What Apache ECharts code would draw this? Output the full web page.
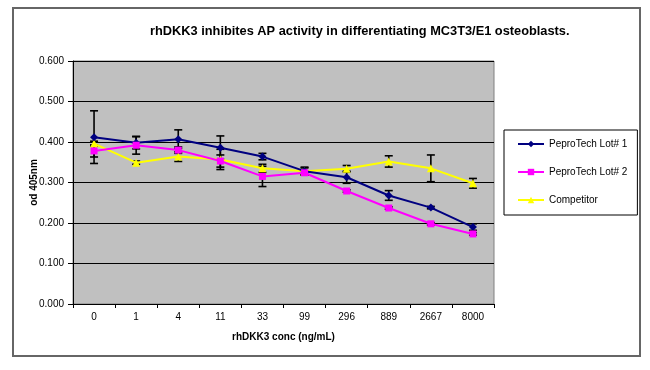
<!DOCTYPE html>
<html>
<head>
<meta charset="utf-8">
<script src="https://cdn.jsdelivr.net/npm/echarts@6/dist/echarts.min.js"></script>
<style>
html,body{margin:0;padding:0;background:#fff;}
#chart{width:650px;height:370px;}
</style>
</head>
<body>
<div id="chart"></div>
<script>
var categories = ['0','1','4','11','33','99','296','889','2667','8000'];
var lot1 = [0.412,0.398,0.407,0.386,0.364,0.328,0.313,0.268,0.238,0.190];
var lot1Err = [0.065,0.015,0.023,0.029,0.008,0.010,0.015,0.012,0.003,0.008];
var lot2 = [0.378,0.392,0.380,0.353,0.315,0.324,0.279,0.237,0.198,0.173];
var lot2Err = [0.015,0.022,0.008,0.015,0.025,0.005,0.003,0.003,0.003,0.003];
var comp = [0.396,0.349,0.364,0.357,0.335,0.328,0.334,0.352,0.335,0.298];
var compErr = [0.006,0.004,0.012,0.025,0.010,0.008,0.008,0.014,0.033,0.012];
var yTicks = [0,0.1,0.2,0.3,0.4,0.5,0.6];

function errData(vals, errs){
  return vals.map(function(v,i){ return [i, v-errs[i], v+errs[i]]; });
}
function errRender(params, api){
  var i = api.value(0);
  var lo = api.coord([i, api.value(1)]);
  var hi = api.coord([i, api.value(2)]);
  var hw = 4;
  var st = {stroke:'#000', lineWidth:1.6};
  return {type:'group', children:[
    {type:'line', shape:{x1:lo[0],y1:lo[1],x2:hi[0],y2:hi[1]}, style:st},
    {type:'line', shape:{x1:lo[0]-hw,y1:lo[1],x2:lo[0]+hw,y2:lo[1]}, style:st},
    {type:'line', shape:{x1:hi[0]-hw,y1:hi[1],x2:hi[0]+hw,y2:hi[1]}, style:st}
  ]};
}
function errSeries(vals, errs){
  return {type:'custom', renderItem:errRender, data:errData(vals,errs),
    encode:{x:0,y:[1,2]}, z:1, silent:true, legendHoverLink:false};
}

var chart = echarts.init(document.getElementById('chart'));
chart.setOption({
  animation:false,
  backgroundColor:'#fff',
  textStyle:{fontFamily:'Liberation Sans, Arial, sans-serif'},
  title:{
    text:'rhDKK3 inhibites AP activity in differentiating MC3T3/E1 osteoblasts.',
    left:145, top:20,
    textStyle:{fontSize:12.8, fontWeight:'bold', color:'#000', fontFamily:'Liberation Sans, Arial, sans-serif'}
  },
  graphic:[{type:'rect', shape:{x:13, y:8, width:627, height:348},
    style:{fill:null, stroke:'#666', lineWidth:2}, z:-1, silent:true}],
  legend:{
    orient:'vertical', left:504, top:130,
    padding:[8,10,9,13],
    itemWidth:26, itemHeight:8, itemGap:16,
    borderColor:'#000', borderWidth:1,
    textStyle:{fontSize:10, color:'#000', lineHeight:12},
    data:['PeproTech Lot# 1','PeproTech Lot# 2','Competitor']
  },
  grid:{left:73, right:156, top:61, bottom:66, show:true,
    backgroundColor:'#C0C0C0', borderColor:'#808080', borderWidth:1},
  xAxis:{
    type:'category', data:categories, boundaryGap:true,
    name:'rhDKK3 conc (ng/mL)', nameLocation:'middle', nameGap:28, nameMoveOverlap:false,
    nameTextStyle:{fontSize:10, fontWeight:'bold', color:'#000'},
    axisLine:{lineStyle:{color:'#000', width:1}},
    axisTick:{show:true, interval:0, length:4, lineStyle:{color:'#000'}},
    axisLabel:{fontSize:10, color:'#000', margin:8, interval:0}
  },
  yAxis:{
    type:'value', min:0, max:0.6, interval:0.1,
    name:'od 405nm', nameLocation:'middle', nameGap:34, nameRotate:90, nameMoveOverlap:false,
    nameTextStyle:{fontSize:10, fontWeight:'bold', color:'#000'},
    axisLine:{show:true, lineStyle:{color:'#000', width:1}},
    axisTick:{show:true, length:5, lineStyle:{color:'#000'}},
    axisLabel:{fontSize:10, color:'#000', margin:9, formatter:function(v){return v.toFixed(3);}},
    splitLine:{show:true, lineStyle:{color:'#000', width:1}}
  },
  series:[
    errSeries(lot1, lot1Err),
    errSeries(lot2, lot2Err),
    errSeries(comp, compErr),
    {name:'PeproTech Lot# 1', type:'line', data:lot1, z:3,
      symbol:'diamond', symbolSize:8,
      lineStyle:{color:'#000080', width:2}, itemStyle:{color:'#000080'}},
    {name:'PeproTech Lot# 2', type:'line', data:lot2, z:3,
      symbol:'rect', symbolSize:7,
      lineStyle:{color:'#FF00FF', width:2}, itemStyle:{color:'#FF00FF'}},
    {name:'Competitor', type:'line', data:comp, z:2,
      symbol:'triangle', symbolSize:8,
      lineStyle:{color:'#FFFF00', width:2}, itemStyle:{color:'#FFFF00'}}
  ]
});
</script>
</body>
</html>
